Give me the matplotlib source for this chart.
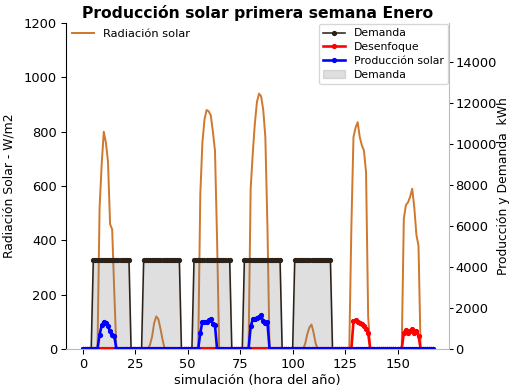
import matplotlib
matplotlib.use("Agg")
import matplotlib.pyplot as plt
import numpy as np

# --- data ---------------------------------------------------------------
n_hours = 168
hours = np.arange(n_hours)

# radiación solar (W/m2): hora de inicio y valores horarios de cada día
rad_start = [7, 31, 55, 79, 105, 127, 152]
rad_values = [
    [0, 520, 680, 800, 760, 690, 460, 440, 210, 0],
    [0, 15, 45, 95, 120, 110, 75, 35, 0],
    [0, 570, 760, 845, 880, 875, 860, 800, 730, 400, 0],
    [0, 590, 720, 830, 910, 940, 930, 880, 780, 450, 0],
    [0, 20, 55, 80, 90, 60, 20, 0],
    [0, 450, 780, 815, 835, 780, 750, 730, 650, 120, 0],
    [0, 480, 530, 540, 560, 590, 520, 420, 380, 0],
]

# producción solar útil (kWh), días laborables
prod_start = [7, 55, 79]
prod_values = [
    [0, 700, 1150, 1300, 1250, 1100, 880, 680, 640, 0],
    [0, 780, 1330, 1330, 1340, 1420, 1480, 1200, 1150, 0],
    [0, 1100, 1450, 1480, 1500, 1550, 1650, 1350, 1250, 1300, 0],
]

# desenfoque (kWh), fin de semana
desen_start = [128, 152]
desen_values = [
    [0, 1350, 1400, 1300, 1280, 1200, 1100, 1000, 780, 0],
    [0, 800, 950, 780, 900, 980, 780, 880, 650, 0],
]

# demanda (kWh)
demanda_nivel = 4350
demanda_dias = [0, 1, 2, 3, 4]
demanda_horas = (5, 22)


def build_series(starts, values):
    serie = np.zeros(n_hours)
    for s, v in zip(starts, values):
        serie[s:s + len(v)] = v
    return serie


radiacion = build_series(rad_start, rad_values)
produccion = build_series(prod_start, prod_values)
desenfoque = build_series(desen_start, desen_values)

demanda = np.zeros(n_hours)
for d in demanda_dias:
    demanda[d * 24 + demanda_horas[0]: d * 24 + demanda_horas[1] + 1] = demanda_nivel

# --- plot ---------------------------------------------------------------
fig, ax = plt.subplots(figsize=(509 / 94, 391 / 94), dpi=94)
fig.subplots_adjust(left=0.1297, right=0.882, bottom=0.1074, top=0.941)

ax.plot(hours, radiacion, color='#d0782c', lw=1.5, label='Radiación solar')
ax.set_xlim(-8, 174.5)
ax.set_ylim(0, 1200)
ax.set_ylabel('Radiación Solar - W/m2', labelpad=6, fontsize=9.5)
ax.set_xlabel('simulación (hora del año)', labelpad=2)
ax.legend(loc='upper left', borderaxespad=0.1, frameon=False, fontsize=8.7)

ax2 = ax.twinx()
ax2.plot(hours, demanda, color='#2b2118', marker='.', markersize=6, lw=1.2, label='Demanda')
ax2.plot(hours, desenfoque, color='red', marker='.', markersize=6, lw=2, label='Desenfoque')
ax2.plot(hours, produccion, color='blue', marker='.', markersize=6, lw=2, label='Producción solar')
ax2.fill_between(hours, demanda, color='gray', alpha=0.25, label='Demanda')
ax2.set_ylim(0, 15900)
ax2.set_ylabel('Producción y Demanda  kWh', labelpad=0, fontsize=9.5)
ax2.tick_params(axis='y', length=3, pad=2)
ax2.legend(loc='upper right', borderaxespad=0.1, fontsize=8.3, labelspacing=0.35)

for a in (ax, ax2):
    a.spines['top'].set_visible(False)
    a.spines['right'].set_color('#bbbbbb')
    a.spines['bottom'].set_color('#bbbbbb')

ax.set_title('Producción solar primera semana Enero', fontweight='bold', pad=4)

plt.savefig('out.png', dpi=94)
